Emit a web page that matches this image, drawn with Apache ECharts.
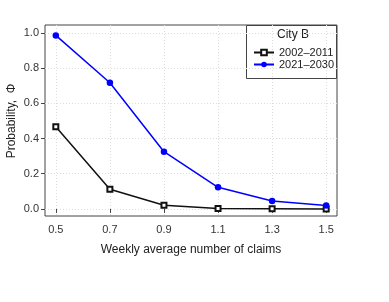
<!DOCTYPE html>
<html><head><meta charset="utf-8">
<script src="https://cdn.jsdelivr.net/npm/echarts@6/dist/echarts.min.js"></script>
<style>html,body{margin:0;padding:0;background:#fff}#c{width:389px;height:302px}</style>
</head><body><div id="c"></div>
<script>
const claims = [0.5, 0.7, 0.9, 1.1, 1.3, 1.5];
const series2002 = [0.467, 0.112, 0.021, 0.003, 0.001, 0.0];
const series2021 = [0.985, 0.716, 0.325, 0.123, 0.045, 0.019];
const xTicks = [0.5, 0.7, 0.9, 1.1, 1.3, 1.5];
const yTicks = [0.0, 0.2, 0.4, 0.6, 0.8, 1.0];
const legendTitle = 'City B';
const yTitle = 'Probability,  \u03A6';
const names = ['2002\u20132011', '2021\u20132030'];

const font = 'Liberation Sans, Arial, sans-serif';
const chart = echarts.init(document.getElementById('c'), null, {renderer: 'canvas'});
const pair = (xs, ys) => xs.map((x, i) => [x, ys[i]]);
chart.setOption({
  animation: false,
  backgroundColor: '#fff',
  grid: {left: 45, top: 25, right: 52, bottom: 86, show: true, borderColor: '#444', borderWidth: 1, containLabel: false, outerBoundsMode: 'none'},
  xAxis: {
    type: 'value', min: 0.46, max: 1.54,
    name: 'Weekly average number of claims', nameLocation: 'middle', nameGap: 28,
    nameTextStyle: {fontFamily: font, fontSize: 12, color: '#222'},
    axisLine: {show: false},
    axisTick: {show: true, inside: false, length: 4, customValues: xTicks, lineStyle: {color: '#444'}},
    axisLabel: {customValues: xTicks, fontFamily: font, fontSize: 11, color: '#333', margin: 8, formatter: v => v.toFixed(1)},
    splitLine: {show: true, lineStyle: {color: '#ddd', type: [1, 2], width: 1}}
  },
  yAxis: {
    type: 'value', min: -0.04, max: 1.044,
    axisLine: {show: false},
    axisTick: {show: true, inside: false, length: 4, customValues: yTicks, lineStyle: {color: '#444'}},
    axisLabel: {customValues: yTicks, fontFamily: font, fontSize: 11, color: '#333', margin: 6, formatter: v => v.toFixed(1)},
    splitLine: {show: true, lineStyle: {color: '#ddd', type: [1, 2], width: 1}}
  },
  legend: {
    orient: 'vertical', left: 248, top: 42, itemGap: 1, itemWidth: 20, itemHeight: 7,
    textStyle: {fontFamily: font, fontSize: 11, color: '#222'},
    data: names
  },
  graphic: [
    {type: 'rect', shape: {x: 246.5, y: 25.5, width: 90, height: 53}, style: {fill: '#fff', stroke: '#444', lineWidth: 1}, z: 0, zlevel: 0},
    {type: 'text', left: 277, top: 29, style: {text: legendTitle, fontFamily: font, fontSize: 12, fill: '#222'}},
    {type: 'text', x: 12, y: 121, rotation: Math.PI / 2,
     style: {text: yTitle, fontFamily: font, fontSize: 12, fill: '#222', align: 'center', verticalAlign: 'middle'}}
  ],
  series: [
    {name: names[0], type: 'line', data: pair(claims, series2002), symbol: 'emptyRect', symbolSize: 5,
     lineStyle: {color: '#111', width: 1.5}, itemStyle: {color: '#111', borderWidth: 1}, z: 3},
    {name: names[1], type: 'line', data: pair(claims, series2021), symbol: 'circle', symbolSize: 6.5,
     lineStyle: {color: '#0000ff', width: 1.5}, itemStyle: {color: '#0000ff'}, z: 4}
  ]
});
</script></body></html>
